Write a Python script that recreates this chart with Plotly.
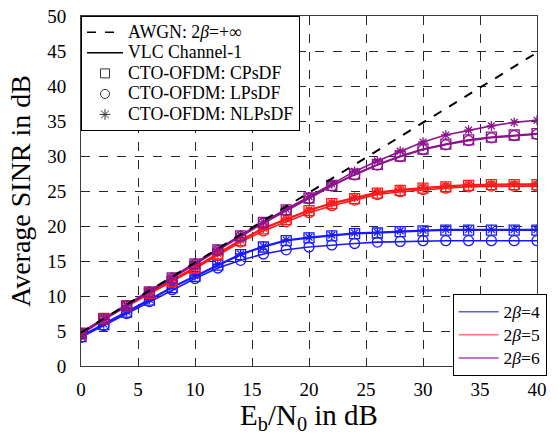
import plotly.graph_objects as go

# ---------------- data ----------------
ebn0 = [0, 2, 4, 6, 8, 10, 12, 14, 16, 18, 20, 22, 24, 26, 28, 30, 32, 34, 36, 38, 40]

awgn_x = [0, 40]
awgn_y = [4.77, 44.77]

b4_cpsdf = [4.2, 5.9, 7.7, 9.4, 11.2, 12.8, 14.4, 15.9, 17.0, 17.9, 18.3, 18.6, 18.9, 19.0, 19.2, 19.3, 19.4, 19.4, 19.4, 19.4, 19.4]
b4_lpsdf = [4.1, 5.8, 7.5, 9.2, 10.9, 12.5, 14.0, 15.1, 16.0, 16.6, 17.0, 17.3, 17.5, 17.7, 17.8, 17.9, 17.9, 17.9, 17.9, 17.9, 17.9]
b4_nlpsdf = [4.3, 6.0, 7.8, 9.5, 11.3, 12.9, 14.5, 16.0, 17.1, 18.0, 18.4, 18.7, 19.0, 19.1, 19.3, 19.4, 19.5, 19.5, 19.5, 19.5, 19.5]

b5_cpsdf = [4.6, 6.8, 8.6, 10.4, 12.1, 14.0, 16.0, 17.9, 19.6, 20.9, 22.2, 23.2, 23.9, 24.7, 25.1, 25.4, 25.6, 25.8, 25.9, 25.9, 25.9]
b5_lpsdf = [4.5, 6.7, 8.5, 10.3, 12.0, 13.9, 15.8, 17.7, 19.3, 20.6, 21.9, 22.9, 23.7, 24.5, 24.9, 25.2, 25.4, 25.6, 25.7, 25.7, 25.7]
b5_nlpsdf = [4.7, 6.8, 8.7, 10.5, 12.2, 14.1, 16.1, 18.0, 19.7, 21.0, 22.3, 23.3, 24.1, 24.8, 25.2, 25.5, 25.7, 25.9, 26.0, 26.0, 26.0]

b6_cpsdf = [4.7, 6.7, 8.6, 10.6, 12.6, 14.6, 16.6, 18.6, 20.5, 22.3, 24.0, 25.8, 27.4, 28.8, 30.0, 31.0, 31.7, 32.3, 32.7, 33.0, 33.2]
b6_lpsdf = [4.6, 6.6, 8.6, 10.5, 12.5, 14.5, 16.5, 18.5, 20.4, 22.2, 23.9, 25.7, 27.3, 28.7, 29.9, 30.9, 31.6, 32.2, 32.6, 32.9, 33.1]
b6_nlpsdf = [4.8, 6.8, 8.7, 10.7, 12.7, 14.7, 16.7, 18.7, 20.6, 22.4, 24.2, 26.0, 27.8, 29.3, 30.7, 32.0, 33.0, 33.7, 34.3, 34.8, 35.1]

awgn_label = "AWGN: 2<i>β</i>=+∞"
vlc_label = "VLC Channel-1"
beta_labels = ["2<i>β</i>=4", "2<i>β</i>=5", "2<i>β</i>=6"]
scheme_labels = ["CTO-OFDM: CPsDF", "CTO-OFDM: LPsDF", "CTO-OFDM: NLPsDF"]
ticks_x = [0, 5, 10, 15, 20, 25, 30, 35, 40]
ticks_y = [0, 5, 10, 15, 20, 25, 30, 35, 40, 45, 50]

# ---------------- styles ----------------
colors = ["rgb(25,25,255)", "rgb(255,25,25)", "rgb(140,20,140)"]
legend_colors = ["rgb(90,90,255)", "rgb(255,120,120)", "rgb(180,70,180)"]
symbols = ["square-open", "circle-open", "asterisk-open"]
FONT = "Liberation Serif"


def big(t, px=17.8):
    return f'<span style="font-size:{px}px">{t}</span>'


fig = go.Figure()

groups = [
    (b4_cpsdf, b4_lpsdf, b4_nlpsdf),
    (b5_cpsdf, b5_lpsdf, b5_nlpsdf),
    (b6_cpsdf, b6_lpsdf, b6_nlpsdf),
]

for gi, grp in enumerate(groups):
    for si, ys in enumerate(grp):
        fig.add_trace(go.Scatter(
            x=ebn0, y=ys, mode="lines+markers",
            line=dict(color=colors[gi], width=1.6),
            marker=dict(symbol=symbols[si], size=10 if si < 2 else 8,
                        color=colors[gi], line=dict(color=colors[gi], width=1.3)),
            showlegend=False, hoverinfo="skip"))

fig.add_trace(go.Scatter(
    x=awgn_x, y=awgn_y, mode="lines",
    line=dict(color="black", width=2, dash="dash"),
    showlegend=False))

# legend 1 entries
fig.add_trace(go.Scatter(x=[None], y=[None], mode="lines", name=big(awgn_label),
                         line=dict(color="black", width=1.5, dash="dash"), legend="legend"))
fig.add_trace(go.Scatter(x=[None], y=[None], mode="lines", name=big(vlc_label),
                         line=dict(color="black", width=1.5), legend="legend"))
for si in range(3):
    fig.add_trace(go.Scatter(x=[None], y=[None], mode="markers", name=big(scheme_labels[si]),
                             marker=dict(symbol=symbols[si], size=9, color="#333",
                                         line=dict(color="#333", width=1)),
                             legend="legend"))
# legend 2 entries
for gi in range(3):
    fig.add_trace(go.Scatter(x=[None], y=[None], mode="lines", name=big(beta_labels[gi], 17.5),
                             line=dict(color=legend_colors[gi], width=1.5), legend="legend2"))

axis_common = dict(
    showgrid=True, gridcolor="rgb(40,40,40)", griddash="dash", gridwidth=1,
    showline=True, linecolor="rgb(60,60,60)", linewidth=1, mirror=True,
    ticks="", zeroline=False, automargin=False,
    tickfont=dict(family=FONT, size=19, color="black"),
)

fig.update_layout(
    width=559, height=435,
    margin=dict(l=81, r=12, t=16, b=69),
    paper_bgcolor="white", plot_bgcolor="white",
    font=dict(family=FONT, color="black"),
    xaxis=dict(range=[0, 40], tickvals=ticks_x, ticklabelstandoff=6,
               title=dict(text="E<sub>b</sub>/N<sub>0</sub> in dB",
                          font=dict(family=FONT, size=29), standoff=10),
               **axis_common),
    yaxis=dict(range=[0, 50], tickvals=ticks_y, ticklabelstandoff=10,
               title=dict(text="Average SINR in dB",
                          font=dict(family=FONT, size=28), standoff=8),
               **axis_common),
    legend=dict(x=0, y=1, xanchor="left", yanchor="top",
                bgcolor="white", bordercolor="black", borderwidth=1,
                font=dict(family=FONT, size=13.5), tracegroupgap=0, itemwidth=36),
    legend2=dict(x=1.021, y=-0.029, xanchor="right", yanchor="bottom",
                 bgcolor="white", bordercolor="black", borderwidth=1,
                 font=dict(family=FONT, size=15.5), tracegroupgap=0, itemwidth=40),
    showlegend=True,
)

fig.write_html("out.html")
